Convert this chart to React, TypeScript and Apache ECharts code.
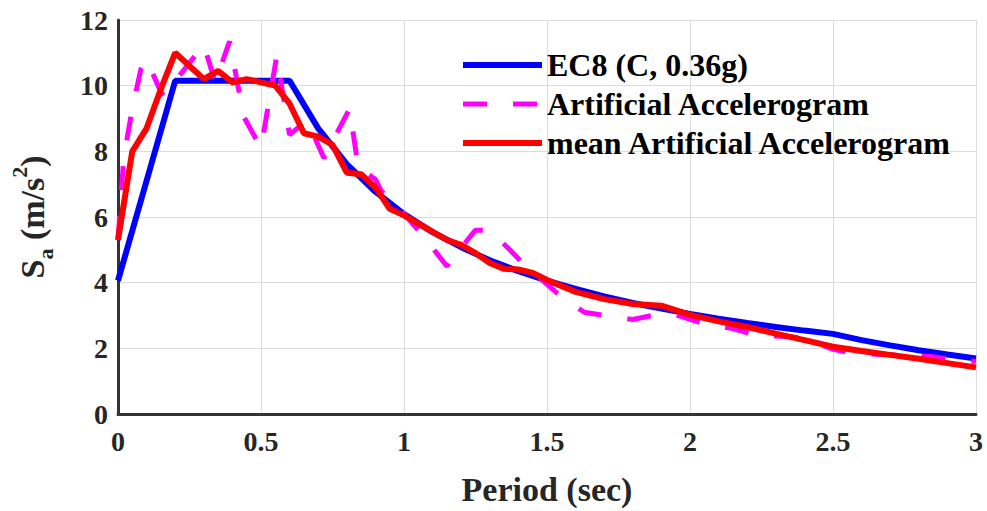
import React, { useEffect, useRef } from "react";
import * as echarts from "echarts";

const seriesNames = ["EC8 (C, 0.36g)", "Artificial Accelerogram", "mean Artificial Accelerogram"];

const ec8Period = [0, 0.2, 0.6, 0.7, 0.8, 0.9, 1.0, 1.1, 1.2, 1.3, 1.4, 1.5, 1.6, 1.7, 1.8, 1.9, 2.0, 2.1, 2.2, 2.3, 2.4, 2.5, 2.6, 2.7, 2.8, 2.9, 3.0];
const ec8Sa = [4.06, 10.15, 10.15, 8.7, 7.61, 6.77, 6.09, 5.54, 5.08, 4.68, 4.35, 4.06, 3.81, 3.58, 3.38, 3.21, 3.05, 2.9, 2.77, 2.65, 2.54, 2.44, 2.25, 2.09, 1.94, 1.81, 1.69];

const artPeriod = [0, 0.02, 0.05, 0.08, 0.1, 0.15, 0.16, 0.3, 0.34, 0.39, 0.44, 0.5, 0.555, 0.6, 0.66, 0.72, 0.81, 0.84, 0.9, 0.92, 1.0, 1.06, 1.15, 1.17, 1.25, 1.3, 1.37, 1.42, 1.5, 1.56, 1.63, 1.7, 1.8, 1.88, 1.95, 2.05, 2.15, 2.23, 2.35, 2.4, 2.5, 2.57, 2.7, 2.84, 2.93, 3.0];
const artSa = [5.3, 7.8, 9.3, 10.5, 10.8, 9.8, 9.7, 11.25, 10.1, 11.35, 9.05, 8.1, 10.9, 8.5, 8.95, 7.8, 9.3, 7.5, 7.15, 6.8, 6.1, 5.5, 4.5, 4.75, 5.6, 5.6, 5.0, 4.55, 3.95, 3.5, 3.1, 3.0, 2.88, 3.02, 3.02, 2.75, 2.6, 2.4, 2.35, 2.3, 1.97, 1.85, 1.8, 1.75, 1.65, 1.6];

const meanPeriod = [0, 0.05, 0.1, 0.15, 0.2, 0.25, 0.3, 0.35, 0.4, 0.45, 0.5, 0.55, 0.6, 0.65, 0.7, 0.75, 0.8, 0.85, 0.9, 0.95, 1.0, 1.05, 1.1, 1.15, 1.2, 1.25, 1.3, 1.35, 1.4, 1.45, 1.5, 1.6, 1.7, 1.8, 1.9, 2.0, 2.1, 2.2, 2.3, 2.4, 2.5, 2.6, 2.7, 2.8, 2.9, 3.0];
const meanSa = [5.3, 8.0, 8.7, 9.9, 11.0, 10.6, 10.2, 10.45, 10.1, 10.2, 10.1, 10.0, 9.45, 8.55, 8.45, 8.2, 7.35, 7.3, 6.9, 6.25, 6.05, 5.8, 5.55, 5.3, 5.15, 4.9, 4.6, 4.42, 4.4, 4.3, 4.08, 3.72, 3.5, 3.35, 3.3, 3.02, 2.82, 2.65, 2.45, 2.25, 2.05, 1.92, 1.8, 1.68, 1.55, 1.42];

const xTicks = { min: 0, max: 3, interval: 0.5 };
const yTicks = { min: 0, max: 12, interval: 2 };

const zip = (xs: number[], ys: number[]) => xs.map((x, i) => [x, ys[i]]);

const FONT = "Liberation Serif";
const TXT = "#262626";
const DASH = [24, 26];

export default function App() {
  const ref = useRef<HTMLDivElement>(null);
  useEffect(() => {
    if (!ref.current) return;
    const chart = echarts.init(ref.current, undefined, { renderer: "svg" });
    chart.setOption({
      animation: false,
      backgroundColor: "#ffffff",
      grid: { left: 118, right: 11, top: 20, bottom: 91, containLabel: false },
      legend: {
        orient: "vertical",
        left: 460,
        top: 49,
        padding: 0,
        itemWidth: 79,
        itemHeight: 14,
        itemGap: 7,
        itemStyle: { opacity: 0 },
        data: [
          { name: seriesNames[0], lineStyle: { width: 6, color: "#0000ff" } },
          { name: seriesNames[1], lineStyle: { width: 5, color: "#ff00ff", type: DASH } },
          { name: seriesNames[2], lineStyle: { width: 6, color: "#ff0000" } },
        ],
        textStyle: { fontFamily: FONT, fontWeight: "bold", fontSize: 32, color: "#000", lineHeight: 30 },
      },
      xAxis: {
        type: "value",
        min: xTicks.min,
        max: xTicks.max,
        interval: xTicks.interval,
        name: "Period (sec)",
        nameLocation: "middle",
        nameGap: 58,
        nameTextStyle: { fontFamily: FONT, fontWeight: "bold", fontSize: 34, color: TXT },
        axisLine: { show: true, onZero: false, lineStyle: { color: "#333", width: 3 } },
        axisTick: { show: false },
        axisLabel: { fontFamily: FONT, fontWeight: "bold", fontSize: 28, color: TXT, margin: 13 },
        splitLine: { show: true, lineStyle: { color: "#dcdcdc", width: 1 } },
      },
      yAxis: {
        type: "value",
        min: yTicks.min,
        max: yTicks.max,
        interval: yTicks.interval,
        name: "{s|S}{sub|a}{s| (m/s}{sup|2}{s|)}",
        nameLocation: "middle",
        nameGap: 62,
        nameTextStyle: {
          color: TXT,
          rich: {
            s: { fontFamily: FONT, fontWeight: "bold", fontSize: 34, color: TXT, lineHeight: 48, verticalAlign: "middle" },
            sub: { fontFamily: FONT, fontWeight: "bold", fontSize: 22, color: TXT, lineHeight: 22, verticalAlign: "bottom" },
            sup: { fontFamily: FONT, fontWeight: "bold", fontSize: 22, color: TXT, lineHeight: 22, verticalAlign: "top" },
          },
        },
        axisLine: { show: true, onZero: false, lineStyle: { color: "#333", width: 3 } },
        axisTick: { show: false },
        axisLabel: { fontFamily: FONT, fontWeight: "bold", fontSize: 28, color: TXT, margin: 10 },
        splitLine: { show: true, lineStyle: { color: "#dcdcdc", width: 1 } },
      },
      series: [
        {
          name: seriesNames[0],
          type: "line",
          data: zip(ec8Period, ec8Sa),
          symbol: "none",
          z: 2,
          lineStyle: { color: "#0000ff", width: 6 },
          itemStyle: { color: "#0000ff" },
        },
        {
          name: seriesNames[1],
          type: "line",
          data: zip(artPeriod, artSa),
          symbol: "none",
          z: 3,
          lineStyle: { color: "#ff00ff", width: 5, type: DASH },
          itemStyle: { color: "#ff00ff" },
        },
        {
          name: seriesNames[2],
          type: "line",
          data: zip(meanPeriod, meanSa),
          symbol: "none",
          z: 4,
          lineStyle: { color: "#ff0000", width: 6 },
          itemStyle: { color: "#ff0000" },
        },
      ],
    });
    return () => chart.dispose();
  }, []);
  return <div ref={ref} style={{ position: "fixed", left: 0, top: 0, width: 987, height: 511 }} />;
}
